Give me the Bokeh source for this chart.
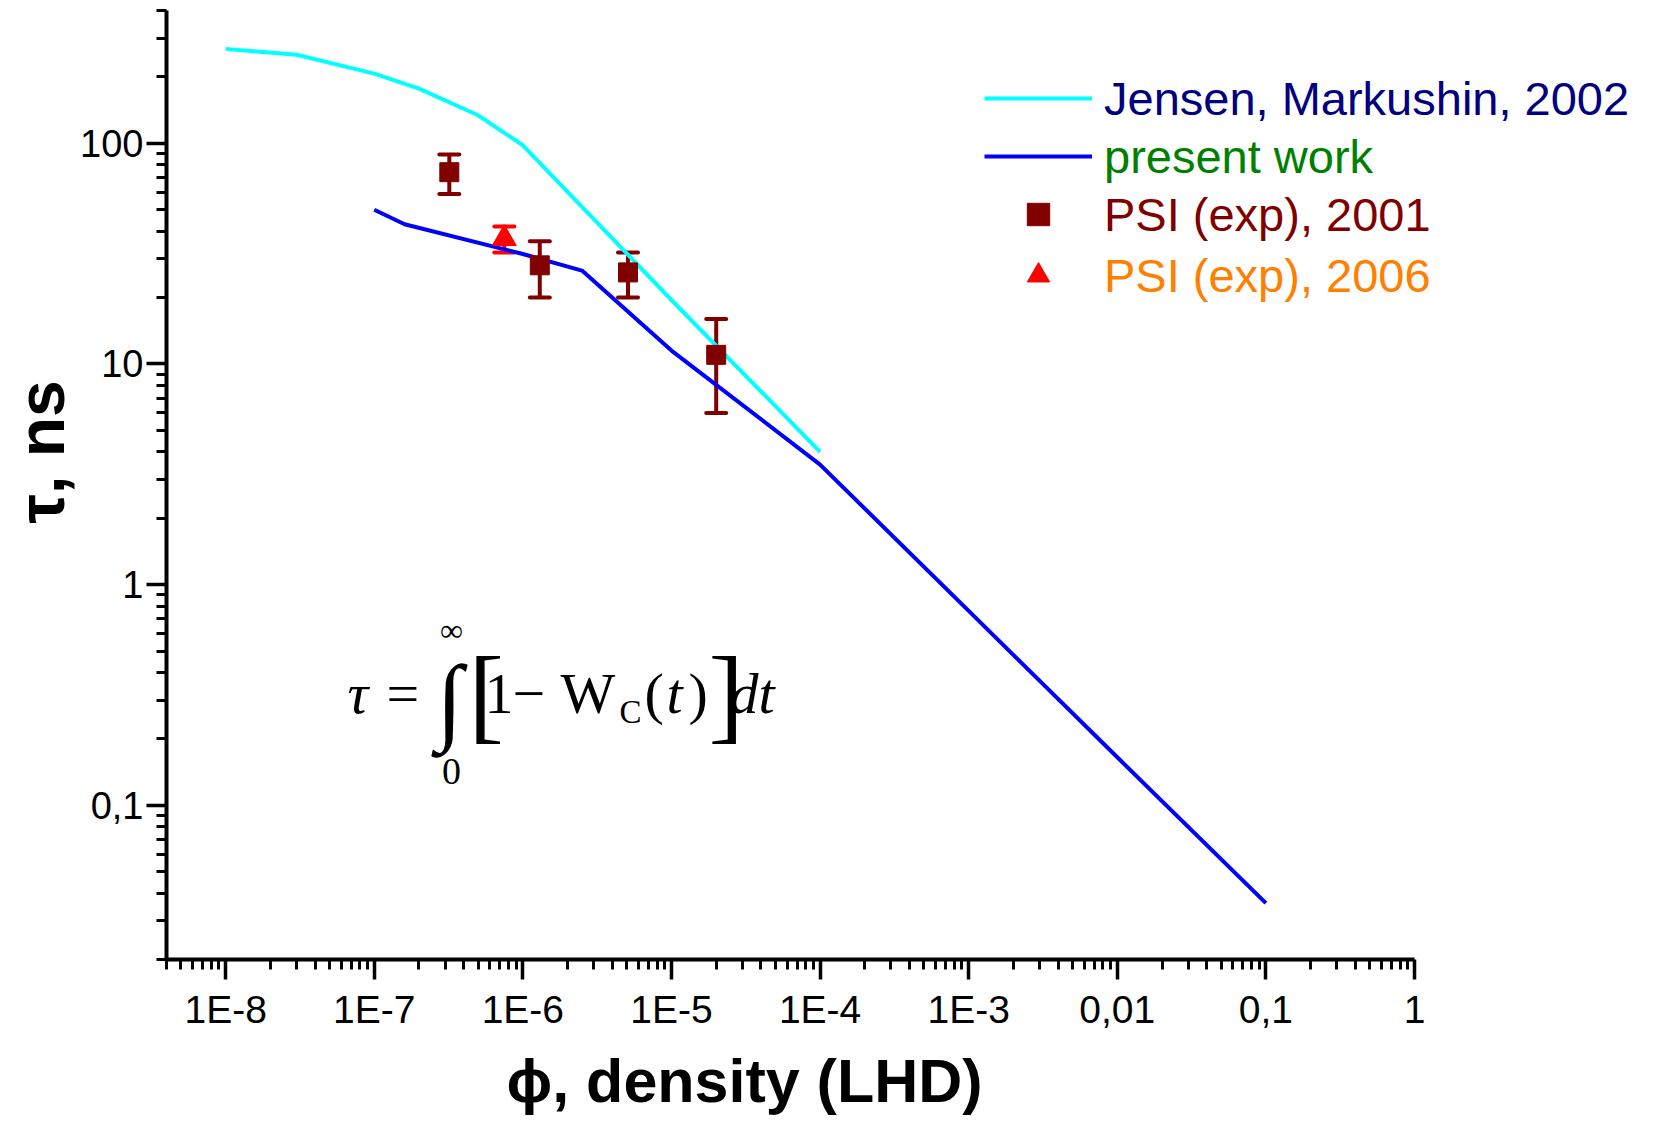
import math
from bokeh.plotting import figure
from bokeh.models import (Range1d, FixedTicker, CustomJSTickFormatter, Whisker, TeeHead,
                          ColumnDataSource, Legend, LegendItem, Label, Title)
from bokeh.embed import file_html
from bokeh.resources import INLINE

# ---------------- data ----------------
jensen_phi = [1e-8, 3e-8, 1e-7, 2e-7, 5e-7, 1e-6, 1e-5, 1e-4]
jensen_tau = [268, 252, 207, 177, 134, 98, 19.5, 4.0]

present_phi = [1e-7, 1.6e-7, 1e-6, 2.5e-6, 1e-5, 1e-4, 1e-3, 1e-2, 1e-1]
present_tau = [50, 43, 31.5, 26.5, 11.5, 3.5, 0.76, 0.165, 0.036]

psi2001_phi = [3.2e-7, 1.3e-6, 5.1e-6, 2.0e-5]
psi2001_tau = [74, 28, 26, 11]
psi2001_lo = [59, 20, 20, 6]
psi2001_hi = [89, 36, 32, 16]

psi2006_phi = [7.5e-7]
psi2006_tau = [37]
psi2006_lo = [32]
psi2006_hi = [42]

x_tick_values = [1e-8, 1e-7, 1e-6, 1e-5, 1e-4, 1e-3, 1e-2, 1e-1, 1]
x_tick_labels = ["1E-8", "1E-7", "1E-6", "1E-5", "1E-4", "1E-3", "0,01", "0,1", "1"]
y_tick_values = [0.1, 1, 10, 100]
y_tick_labels = ["0,1", "1", "10", "100"]

legend_labels = ["Jensen, Markushin, 2002", "present work", "PSI (exp), 2001", "PSI (exp), 2006"]
legend_colors = ["#000080", "#008000", "#800000", "#FF8000"]

x_label = "\u03d5, density (LHD)"
y_label = "\u03c4, ns"

X_AXIS = (4e-9, 1.0)      # extent of the drawn x axis
Y_RANGE = (0.02, 400.0)

# ---------------- layout ----------------
W, H = 1654, 1126
BL, BT, BB = 166, 10, 165
AXIS_PX = 1248            # pixel length of the drawn x axis
lg0, lg1 = math.log10(X_AXIS[0]), math.log10(X_AXIS[1])
x_end = 10 ** (lg0 + (lg1 - lg0) * (W - BL) / AXIS_PX)   # frame reaches the right edge

p = figure(width=W, height=H, x_axis_type="log", y_axis_type="log",
           x_range=Range1d(X_AXIS[0], x_end), y_range=Range1d(*Y_RANGE),
           output_backend="svg", toolbar_location=None,
           min_border_left=BL, min_border_right=0, min_border_top=BT, min_border_bottom=BB)
p.outline_line_color = None
p.grid.visible = False
p.background_fill_color = "white"
p.border_fill_color = "white"


def minor_ticks(lo, hi):
    out = []
    e = -10
    while 10.0 ** e <= hi:
        for m in range(2, 10):
            v = m * 10.0 ** e
            if lo <= v <= hi:
                out.append(v)
        e += 1
    return out


fmt_code = """
let best = 0, bd = Infinity;
for (let i = 0; i < vals.length; i++) {
  const d = Math.abs(Math.log10(vals[i]) - Math.log10(tick));
  if (d < bd) { bd = d; best = i; }
}
return labs[best];
"""
p.xaxis.ticker = FixedTicker(ticks=x_tick_values, minor_ticks=minor_ticks(*X_AXIS))
p.yaxis.ticker = FixedTicker(ticks=y_tick_values, minor_ticks=minor_ticks(*Y_RANGE))
p.xaxis.formatter = CustomJSTickFormatter(args=dict(vals=x_tick_values, labs=x_tick_labels), code=fmt_code)
p.yaxis.formatter = CustomJSTickFormatter(args=dict(vals=y_tick_values, labs=y_tick_labels), code=fmt_code)
p.xaxis.bounds = X_AXIS

for ax in (p.xaxis[0], p.yaxis[0]):
    ax.axis_line_width = 4
    ax.axis_line_color = "black"
    ax.major_tick_line_width = 3.5
    ax.minor_tick_line_width = 3
    ax.major_tick_line_color = "black"
    ax.minor_tick_line_color = "black"
    ax.major_tick_in = 0
    ax.major_tick_out = 20
    ax.minor_tick_in = 0
    ax.minor_tick_out = 10
    ax.major_label_text_font = "Liberation Sans"
    ax.major_label_text_color = "black"

p.xaxis.major_label_text_font_size = "39px"
p.yaxis.major_label_text_font_size = "38px"
p.xaxis.major_label_standoff = 8
p.yaxis.major_label_standoff = 3

# axis titles as side-panel titles (so they can be placed like the reference)
p.add_layout(Title(text=x_label, align="left", offset=340, standoff=23,
                   text_font="Liberation Sans", text_font_style="bold",
                   text_font_size="61px", text_color="black"), "below")
p.add_layout(Title(text=y_label, align="left", offset=436, standoff=0,
                   text_font="Liberation Sans", text_font_style="bold",
                   text_font_size="66px", text_color="black"), "left")

# ---------------- data glyphs ----------------
r_jensen = p.line(jensen_phi, jensen_tau, line_color="#00FFFF", line_width=4)
r_present = p.line(present_phi, present_tau, line_color="#0000FF", line_width=4)

src01 = ColumnDataSource(dict(x=psi2001_phi, y=psi2001_tau, lo=psi2001_lo, hi=psi2001_hi))
src06 = ColumnDataSource(dict(x=psi2006_phi, y=psi2006_tau, lo=psi2006_lo, hi=psi2006_hi))

for src, col in ((src01, "#800000"), (src06, "#FF0000")):
    wk = Whisker(source=src, base="x", upper="hi", lower="lo", dimension="height",
                 line_color=col, line_width=4,
                 upper_head=TeeHead(size=20, line_color=col, line_width=4, line_cap="round"),
                 lower_head=TeeHead(size=20, line_color=col, line_width=4, line_cap="round"))
    p.add_layout(wk)

r_psi01 = p.scatter("x", "y", source=src01, marker="square", size=19,
                    fill_color="#800000", line_color="#800000")
r_psi06 = p.scatter("x", "y", source=src06, marker="triangle", size=24,
                    fill_color="#FF0000", line_color="#FF0000")

# ---------------- legend (one box per row, for per-row text colours) ----------------
frame_h = H - BT - BB
row_centers = [100, 158, 216, 277]
row_h = 56
for rend, lab, col, yc in zip([r_jensen, r_present, r_psi01, r_psi06], legend_labels,
                              legend_colors, row_centers):
    lg = Legend(items=[LegendItem(label=lab, renderers=[rend])],
                location=(984 - BL, frame_h - (yc - BT) - row_h // 2),
                label_text_font="Liberation Sans", label_text_font_size="47px",
                label_text_color=col, glyph_width=108, glyph_height=row_h,
                label_height=row_h, label_standoff=12, padding=0, margin=0, spacing=0,
                border_line_alpha=0, background_fill_alpha=0)
    p.add_layout(lg)

# ---------------- formula annotation ----------------
formula_phi, formula_tau = 6.6e-8, 0.262   # anchor of the formula
ax0, ay0 = 347, 714
dy_fix = 19
pieces = [
    ("\u03c4", 347, 714, 58, "italic", "left"),
    ("=", 386, 714, 58, "normal", "left"),
    ("\u222b", 436, 720, 96, "normal", "left"),
    ("\u221e", 451, 650, 32, "normal", "center"),
    ("0", 451, 792, 38, "normal", "center"),
    ("[", 468, 715, 106, "normal", "left"),
    ("1", 484, 714, 58, "normal", "left"),
    ("\u2212", 512, 714, 58, "normal", "left"),
    ("W", 560, 714, 58, "normal", "left"),
    ("C", 619, 732, 33, "normal", "left"),
    ("(", 644, 714, 58, "normal", "left"),
    ("t", 666, 714, 58, "italic", "left"),
    (")", 688, 714, 58, "normal", "left"),
    ("]", 708, 715, 106, "normal", "left"),
    ("dt", 729, 714, 58, "italic", "left"),
]
for txt, sx, sy, fs, style, align in pieces:
    p.add_layout(Label(x=formula_phi, y=formula_tau, x_offset=sx - ax0,
                       y_offset=-(sy - ay0) + dy_fix,
                       text=txt, text_font="Liberation Serif", text_font_size=f"{fs}px",
                       text_font_style=style, text_align=align, text_baseline="alphabetic",
                       text_color="black"))

open("out.html", "w").write(file_html(p, INLINE))
